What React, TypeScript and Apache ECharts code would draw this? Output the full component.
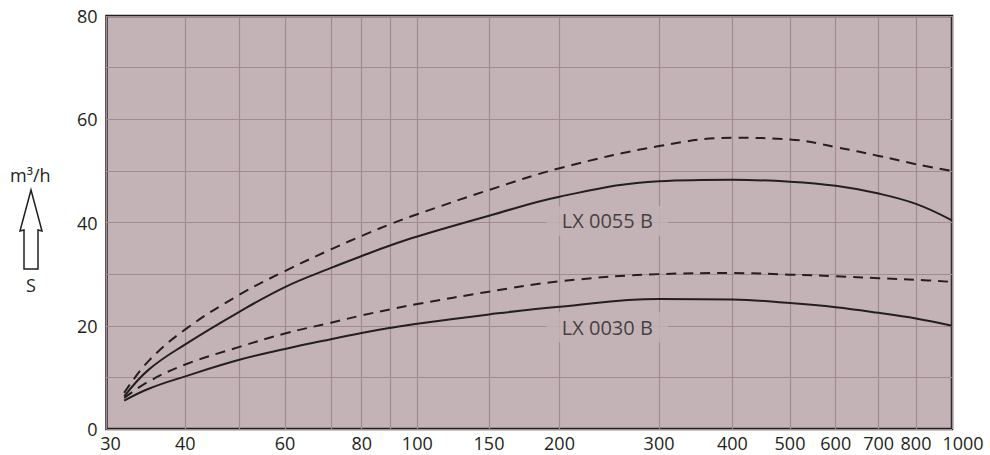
import React, { useEffect, useRef } from "react";
import * as echarts from "echarts";

// Pressure axis (mbar) – the printed scale is a slightly irregular log scale;
// X_TICK_SCALE gives each tick's place along the axis (0 = left, 1 = right).
const X_TICKS = [30, 40, 50, 60, 70, 80, 90, 100, 150, 200, 300, 400, 500, 600, 700, 800, 1000];
const X_TICK_SCALE = [0, 0.0932, 0.1571, 0.2111, 0.2655, 0.3018, 0.3361, 0.3676, 0.4524, 0.5358, 0.6535, 0.7402, 0.8084, 0.8625, 0.9133, 0.9574, 1];
const X_LABELS = [30, 40, 60, 80, 100, 150, 200, 300, 400, 500, 600, 700, 800];
const X_END_LABEL = [1000];
const Y_LABELS = [0, 20, 40, 60, 80];

// Curves: pumping speed S (m³/h) vs pressure
const PRESSURE = [32, 35, 40, 50, 60, 70, 80, 90, 100, 150, 200, 300, 400, 500, 600, 700, 800, 1000];
const LX0055_SOLID = [6.3, 11.5, 16.4, 22.7, 27.5, 31.2, 33.5, 35.6, 37.3, 41.3, 45.0, 48.0, 48.3, 47.9, 47.1, 45.6, 43.6, 40.4];
const LX0055_DASHED = [7.0, 13.2, 19.3, 26.0, 30.6, 34.8, 37.4, 39.7, 41.6, 46.3, 50.5, 54.8, 56.4, 56.1, 54.6, 52.9, 51.3, 50.0];
const LX0030_SOLID = [5.5, 7.8, 10.2, 13.4, 15.5, 17.4, 18.6, 19.6, 20.4, 22.2, 23.7, 25.2, 25.1, 24.4, 23.6, 22.5, 21.4, 20.0];
const LX0030_DASHED = [6.0, 9.2, 12.5, 15.9, 18.5, 20.6, 22.0, 23.2, 24.2, 26.6, 28.6, 30.0, 30.2, 29.9, 29.6, 29.2, 28.9, 28.5];

const CURVE_LABELS = ["LX 0055 B", "LX 0030 B"];
const CURVE_LABEL_PRESSURE = [243, 243];
const CURVE_LABEL_VALUE = [40.3, 19.7];

const FONT = "'Open Sans', 'Noto Sans', sans-serif";
const INK = "#231f20";
const BG = "#c4b3b6";
const GRID = "#a08b90";

function posOf(p: number): number {
  for (let i = 0; i < X_TICKS.length - 1; i++) {
    const a = X_TICKS[i];
    const b = X_TICKS[i + 1];
    if (p <= b || i === X_TICKS.length - 2) {
      const t = Math.log(p / a) / Math.log(b / a);
      return X_TICK_SCALE[i] + t * (X_TICK_SCALE[i + 1] - X_TICK_SCALE[i]);
    }
  }
  return 1;
}

function tickOf(v: number): number {
  let best = 0;
  let bd = Infinity;
  X_TICKS.forEach((t, i) => {
    const d = Math.abs(X_TICK_SCALE[i] - v);
    if (d < bd) {
      bd = d;
      best = t;
    }
  });
  return best;
}

function curve(name: string, ys: number[], dashed: boolean) {
  return {
    name,
    type: "line",
    xAxisIndex: 0,
    data: PRESSURE.map((p, i) => [posOf(p), ys[i]]),
    showSymbol: false,
    symbol: "none",
    smooth: 0.4,
    silent: true,
    z: 3,
    lineStyle: {
      color: INK,
      width: 2,
      type: dashed ? [10, 7] : "solid",
    },
  };
}

const labelText = { fontSize: 18, lineHeight: 18, color: INK, fontFamily: FONT };

export default function App() {
  const ref = useRef<HTMLDivElement>(null);

  useEffect(() => {
    if (!ref.current) return;
    const chart = echarts.init(ref.current, undefined, { renderer: "svg" });
    const option = {
      animation: false,
      backgroundColor: "#ffffff",
      textStyle: { fontFamily: FONT },
      grid: {
        left: 106.5,
        right: 38,
        top: 16,
        bottom: 26,
        show: true,
        backgroundColor: BG,
        borderColor: INK,
        borderWidth: 2.5,
      },
      xAxis: [
        {
          type: "value",
          min: 0,
          max: 1,
          position: "bottom",
          axisLine: { show: false },
          axisTick: { show: false, customValues: X_TICK_SCALE },
          splitLine: { show: true, lineStyle: { color: GRID, width: 1.2 } },
          axisLabel: {
            customValues: X_LABELS.map(posOf),
            showMinLabel: true,
            hideOverlap: false,
            formatter: (v: number) => {
              const t = tickOf(v);
              if (t === 30) return "{first|30}";
              return String(t);
            },
            ...labelText,
            margin: 5,
            rich: {
              first: { ...labelText, padding: [0, 0, 0, 8] },
            },
          },
        },
        {
          type: "value",
          min: 0,
          max: 1,
          position: "bottom",
          axisLine: { show: false },
          axisTick: { show: false },
          splitLine: { show: false },
          axisLabel: {
            customValues: X_END_LABEL.map(posOf),
            showMaxLabel: true,
            formatter: (v: number) => "{far|" + tickOf(v) + "}",
            ...labelText,
            margin: 5,
            rich: {
              far: { ...labelText, padding: [0, 0, 0, 22] },
            },
          },
        },
      ],
      yAxis: {
        type: "value",
        min: 0,
        max: 80,
        interval: 10,
        axisLine: { show: false },
        axisTick: { show: false },
        splitLine: { show: true, lineStyle: { color: GRID, width: 1.2 } },
        axisLabel: {
          customValues: Y_LABELS,
          fontSize: 18,
          color: INK,
          fontFamily: FONT,
          margin: 9,
        },
      },
      series: [
        {
          name: "labels",
          type: "scatter",
          xAxisIndex: 0,
          silent: true,
          z: 2,
          symbol: "rect",
          symbolSize: [122, 30],
          itemStyle: { color: BG },
          data: CURVE_LABELS.map((n, i) => ({
            name: n,
            value: [posOf(CURVE_LABEL_PRESSURE[i]), CURVE_LABEL_VALUE[i]],
          })),
          label: {
            show: true,
            position: "inside",
            formatter: "{b}",
            fontSize: 20,
            color: INK,
            fontFamily: FONT,
          },
        },
        curve("LX 0055 B (dashed)", LX0055_DASHED, true),
        curve("LX 0055 B", LX0055_SOLID, false),
        curve("LX 0030 B (dashed)", LX0030_DASHED, true),
        curve("LX 0030 B", LX0030_SOLID, false),
      ],
      graphic: [
        {
          type: "text",
          left: 10,
          top: 166,
          style: { text: "m³/h", fontSize: 18, fill: INK, fontFamily: FONT },
        },
        {
          type: "polygon",
          shape: {
            points: [
              [31, 190],
              [42, 231],
              [38, 230],
              [38, 269],
              [24, 269],
              [24, 230],
              [20, 231],
            ],
          },
          style: { fill: "#ffffff", stroke: INK, lineWidth: 1.5 },
        },
        {
          type: "text",
          left: 26,
          top: 276,
          style: { text: "S", fontSize: 18, fill: INK, fontFamily: FONT },
        },
      ],
    };
    chart.setOption(option as any);
    return () => chart.dispose();
  }, []);

  return (
    <div
      ref={ref}
      style={{ position: "fixed", left: 0, top: 0, width: 990, height: 455 }}
    />
  );
}
